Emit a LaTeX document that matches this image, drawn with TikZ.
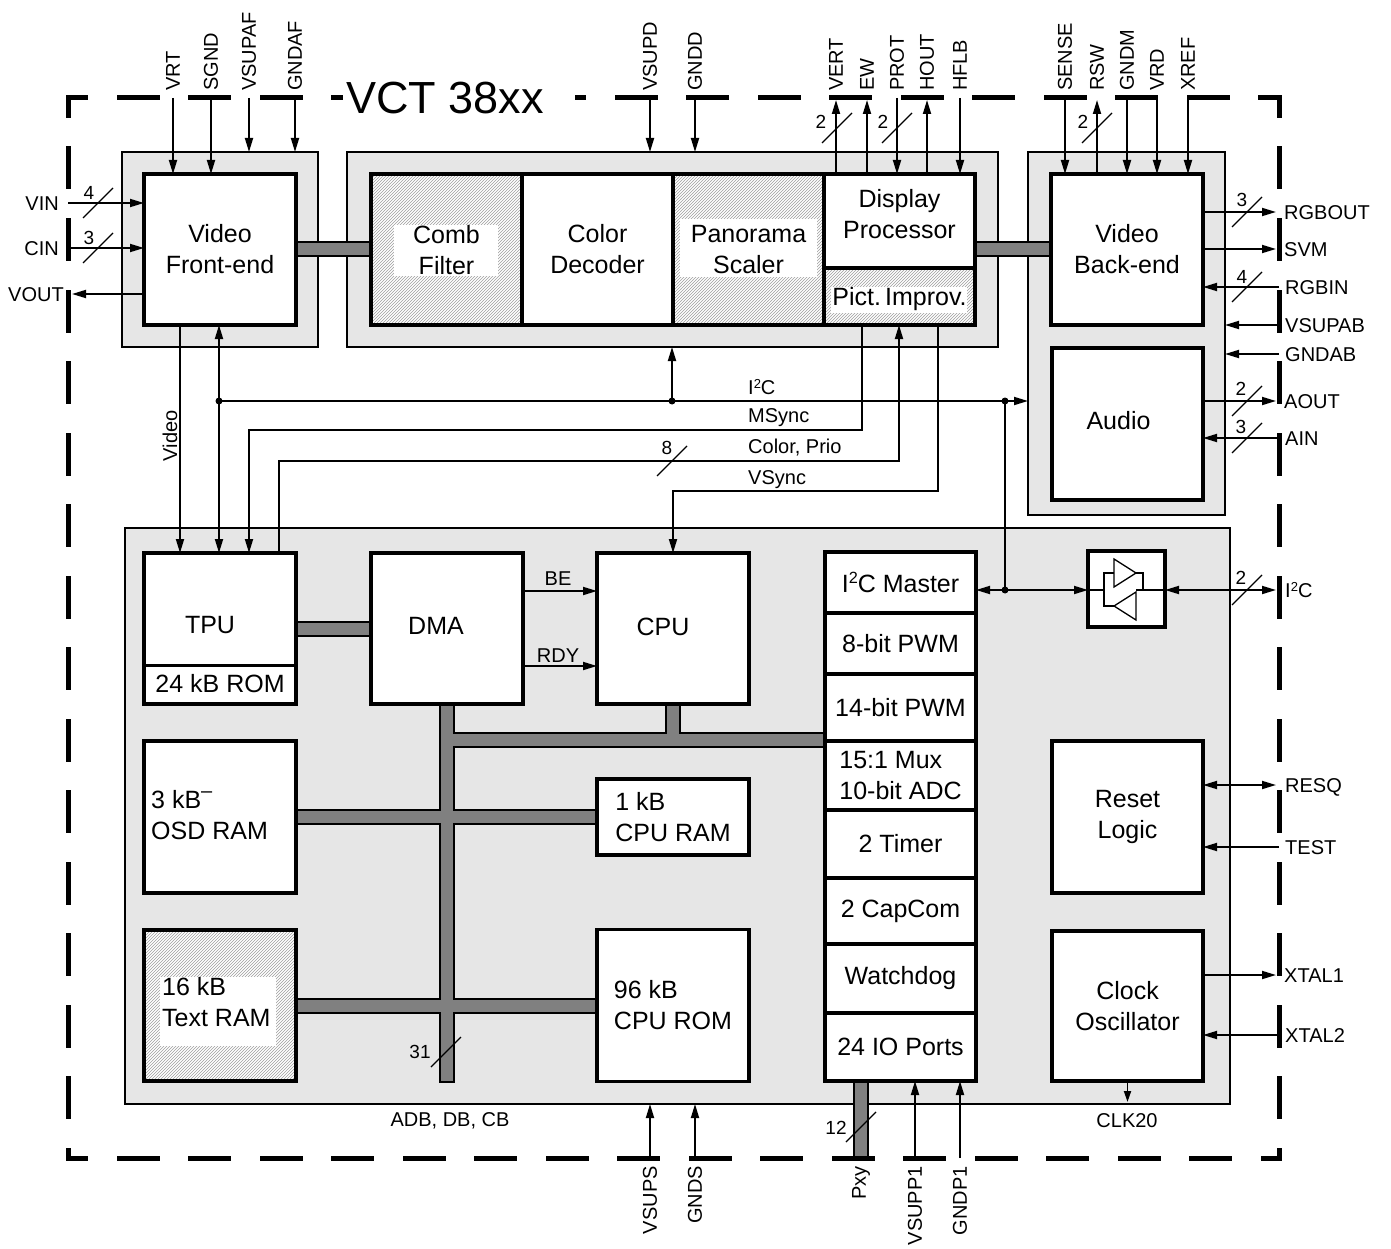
\documentclass[tikz,border=0pt]{standalone}
\usepackage{fontspec}
\setmainfont{Liberation Sans}
\usetikzlibrary{arrows.meta,patterns,calc}
\pgfdeclarelayer{bg}
\pgfdeclarelayer{bus}
\pgfsetlayers{bg,bus,main}
\definecolor{boxgray}{RGB}{230,230,230}
\definecolor{busgray}{RGB}{128,128,128}
\newcommand\fBlk{\fontsize{25}{31}\selectfont}
\newcommand\fPin{\fontsize{20}{23}\selectfont}
\newcommand\fNum{\fontsize{19}{22}\selectfont}
\newcommand\fTtl{\fontsize{45}{50}\selectfont}
\newcommand\supII{\raisebox{0.33em}{\scalebox{0.65}{2}}}
\newcommand\supbar{\raisebox{0.45em}{\scalebox{0.8}{–}}}
\newcommand\bslash[1]{\draw[slashln] ($(#1)+(-15,15)$) -- ($(#1)+(15,-15)$);}
\tikzset{
  blk/.style={draw, line width=3.5pt, fill=white, inner sep=0pt, outer sep=0pt, align=center, font=\fBlk},
  hblk/.style={blk, preaction={fill=white}, pattern=north east lines, pattern color=black!38},
  gbox/.style={draw, line width=2pt, fill=boxgray, inner sep=0pt, outer sep=0pt},
  conn/.style={line width=1.8pt},
  arr/.style={conn, -{Triangle[length=14pt,width=8pt]}},
  darr/.style={conn, {Triangle[length=14pt,width=8pt]}-{Triangle[length=14pt,width=8pt]}},
  slashln/.style={line width=1.2pt},
  busout/.style={line width=16pt, draw=black},
  busin/.style={line width=12pt, draw=busgray},
  bord/.style={line width=5pt, line cap=rect, dash pattern=on 38pt off 33.5pt, dash phase=20.5pt},
  lbl/.style={font=\fPin, inner sep=0pt},
  txt/.style={font=\fBlk, inner sep=0pt, align=center},
  num/.style={font=\fNum, inner sep=0pt},
  dot/.style={circle, fill=black, inner sep=0pt, minimum size=7pt},
}
\begin{document}
\begin{tikzpicture}[x=1pt,y=-1pt]
\useasboundingbox (0,0) rectangle (1391,1249);
\begin{pgfonlayer}{bg}
\fill[white] (0,0) rectangle (1391,1249);
\node[gbox, minimum width=196pt, minimum height=195pt] (gTL) at (220,249.5) {};
\node[gbox, minimum width=651pt, minimum height=195pt] (gTM) at (672.5,249.5) {};
\node[gbox, minimum width=197pt, minimum height=363pt] (gTR) at (1126.5,333.5) {};
\node[gbox, minimum width=1105pt, minimum height=576pt] (gB) at (677.5,816) {};
\end{pgfonlayer}

% ---------- top blocks
\node[blk, minimum width=152pt, minimum height=151pt] (vfe) at (220,249.5) {Video\\Front-end};
\node[hblk, minimum width=151pt, minimum height=151pt] (comb) at (446.5,249.5) {};
\node[blk, minimum width=151pt, minimum height=151pt] (cdec) at (597.5,249.5) {Color\\Decoder};
\node[hblk, minimum width=151pt, minimum height=151pt] (pano) at (748.5,249.5) {};
\node[blk, minimum width=151pt, minimum height=94pt] (dp) at (899.5,221) {};
\node[hblk, minimum width=151pt, minimum height=57pt] (pi) at (899.5,296.5) {};
\node[blk, minimum width=152pt, minimum height=151pt] (vbe) at (1127,249.5) {Video\\Back-end};
\node[blk, minimum width=151pt, minimum height=152pt] (audio) at (1127.5,424) {};
\fill[white] (394,225) rectangle (498,276);
\node[txt] (tComb) at (446.5,250) {Comb\\Filter};
\fill[white] (680,219) rectangle (817,277);
\node[txt] (tPano) at (748.5,250) {Panorama\\Scaler};
\node[txt] (tDP) at (899.5,214) {Display\\Processor};
\fill[white] (831,287) rectangle (967,313);
\node[txt] (tPI) at (899.5,299) {Pict.\,Improv.};
\node[txt] (tAud) at (1118.5,421) {Audio};

% ---------- bottom blocks
\node[blk, minimum width=152pt, minimum height=151pt] (tpu) at (220,628.5) {};
\coordinate (tpudiv) at (220,665);
\draw[line width=3pt] (tpu.west |- tpudiv) -- (tpu.east |- tpudiv);
\node[txt] (tTPU) at (210,625) {TPU};
\node[txt] (tROM) at (220,684) {24 kB ROM};
\node[blk, minimum width=152pt, minimum height=151pt] (dma) at (447,628.5) {};
\node[txt] (tDMA) at (436,626) {DMA};
\node[blk, minimum width=152pt, minimum height=151pt] (cpu) at (673,628.5) {};
\node[txt] (tCPU) at (663,627) {CPU};
\node[blk, minimum width=152pt, minimum height=152pt] (osd) at (220,817) {};
\node[txt, align=left, anchor=west] (tOSD) at (151,815) {3 kB\supbar\\OSD RAM};
\node[hblk, minimum width=152pt, minimum height=151pt] (tram) at (220,1005.5) {};
\fill[white] (160,977) rectangle (276,1046);
\node[txt, align=left, anchor=west] (tTR) at (162,1002) {16 kB\\Text RAM};
\node[blk, minimum width=152pt, minimum height=76pt, align=left] (ram1) at (673,817) {1 kB\\CPU RAM};
\node[blk, minimum width=152pt, minimum height=152pt, align=left] (rom96) at (673,1005.5) {96 kB\\CPU ROM};

\node[blk, minimum width=151pt, minimum height=61pt] (i2cm) at (900.5,582.5) {I\supII C Master};
\node[blk, minimum width=151pt, minimum height=61pt] (pwm8) at (900.5,643.5) {8-bit PWM};
\node[blk, minimum width=151pt, minimum height=67pt] (pwm14) at (900.5,707.5) {14-bit PWM};
\node[blk, minimum width=151pt, minimum height=69pt, align=left] (adc) at (900.5,775.5) {15:1 Mux\\10-bit ADC};
\node[blk, minimum width=151pt, minimum height=68pt] (tmr) at (900.5,844) {2 Timer};
\node[blk, minimum width=151pt, minimum height=66pt] (capc) at (900.5,911) {2 CapCom};
\node[blk, minimum width=151pt, minimum height=69pt] (wdog) at (900.5,978.5) {Watchdog};
\node[blk, minimum width=151pt, minimum height=68pt] (iop) at (900.5,1047) {24 IO Ports};

\node[blk, minimum width=77pt, minimum height=76pt] (buf) at (1126.5,589) {};
\node[blk, minimum width=151pt, minimum height=152pt] (reset) at (1127.5,817) {Reset\\Logic};
\node[blk, minimum width=151pt, minimum height=150pt] (clk) at (1127.5,1006) {Clock\\Oscillator};

% buffer symbol
\coordinate (bufsig) at (1126.5,590);
\draw[conn] (buf.west |- bufsig) -- (1104,590) -- (1104,573) -- (1114,573);
\draw[conn] (1104,590) -- (1104,606) -- (1114,606);
\draw[conn] (1136,573) -- (1143,573) -- (1143,590) -- (buf.east |- bufsig);
\draw[conn] (1143,590) -- (1136,590);
\draw[line width=1.3pt, fill=white] (1114,559) -- (1114,587) -- (1136,573) -- cycle;
\draw[line width=1.3pt, fill=white] (1136,592) -- (1136,620) -- (1114,606) -- cycle;

% ---------- buses
\coordinate (hb) at (447,740);
\coordinate (dmabo) at (447,1082.5);
\coordinate (dmabi) at (447,1080.5);
\coordinate (pPxy) at (861,1158);
\begin{pgfonlayer}{bus}
\foreach \st in {busout,busin}{
  \draw[\st] (vfe.east) -- (comb.west);
  \draw[\st] (dp.east |- vbe.west) -- (vbe.west);
  \draw[\st] (tpu.east) -- (dma.west);
  \draw[\st] (hb) -- (hb -| adc.west);
  \draw[\st] (cpu.south) -- (cpu.south |- hb);
  \draw[\st] (osd.east) -- (ram1.west);
  \draw[\st] (tram.east) -- (rom96.west);
  \draw[\st] (iop.south -| pPxy) -- (pPxy);
}
\draw[busout] (dma.south) -- (dmabo);
\draw[busin] (dma.south) -- (dmabi);
\draw[busin] (hb) -- (hb -| adc.west);
\draw[busin] (osd.east) -- (ram1.west);
\draw[busin] (tram.east) -- (rom96.west);
\end{pgfonlayer}
\coordinate (s31) at (446,1052);
\bslash{s31}
\node[num] (n31) at (420,1052) {31};
\coordinate (s12) at (861,1127);
\bslash{s12}
\node[num] (n12) at (836,1128) {12};
\node[lbl] (lADB) at (450,1121) {ADB, DB, CB};

% ---------- top pins
\foreach \nm/\x in {VRT/173,SGND/211}{
  \coordinate (p\nm) at (\x,98);
  \draw[arr] (p\nm) -- (p\nm |- vfe.north);
  \node[lbl, rotate=90, anchor=west] (l\nm) at ($(p\nm)+(0,-7)$) {\nm};
}
\foreach \nm/\x in {VSUPAF/249,GNDAF/295}{
  \coordinate (p\nm) at (\x,98);
  \draw[arr] (p\nm) -- (p\nm |- gTL.north);
  \node[lbl, rotate=90, anchor=west] (l\nm) at ($(p\nm)+(0,-7)$) {\nm};
}
\foreach \nm/\x in {VSUPD/650,GNDD/695}{
  \coordinate (p\nm) at (\x,98);
  \draw[arr] (p\nm) -- (p\nm |- gTM.north);
  \node[lbl, rotate=90, anchor=west] (l\nm) at ($(p\nm)+(0,-7)$) {\nm};
}
\foreach \nm/\x in {VERT/836,EW/867,HOUT/927}{
  \coordinate (p\nm) at (\x,98);
  \draw[arr, shorten >=2pt] (p\nm |- dp.north) -- (p\nm);
  \node[lbl, rotate=90, anchor=west] (l\nm) at ($(p\nm)+(0,-7)$) {\nm};
}
\foreach \nm/\x in {PROT/897,HFLB/960}{
  \coordinate (p\nm) at (\x,98);
  \draw[arr] (p\nm) -- (p\nm |- dp.north);
  \node[lbl, rotate=90, anchor=west] (l\nm) at ($(p\nm)+(0,-7)$) {\nm};
}
\foreach \nm/\x in {SENSE/1065,GNDM/1127,VRD/1157,XREF/1188}{
  \coordinate (p\nm) at (\x,98);
  \draw[arr] (p\nm) -- (p\nm |- vbe.north);
  \node[lbl, rotate=90, anchor=west] (l\nm) at ($(p\nm)+(0,-7)$) {\nm};
}
\coordinate (pRSW) at (1097,98);
\draw[arr, shorten >=2pt] (pRSW |- vbe.north) -- (pRSW);
\node[lbl, rotate=90, anchor=west] (lRSW) at ($(pRSW)+(0,-7)$) {RSW};

\coordinate (sVERT) at (837,128); \bslash{sVERT} \node[num] (nVERT) at (821,122) {2};
\coordinate (sPROT) at (897,128); \bslash{sPROT} \node[num] (nPROT) at (883,122) {2};
\coordinate (sRSW) at (1097,128); \bslash{sRSW} \node[num] (nRSW) at (1083,122) {2};

% ---------- bottom pins
\foreach \nm/\x in {VSUPS/650,GNDS/695}{
  \coordinate (p\nm) at (\x,1158);
  \draw[arr] (p\nm) -- (p\nm |- gB.south);
  \node[lbl, rotate=90, anchor=east] (l\nm) at ($(p\nm)+(0,8)$) {\nm};
}
\foreach \nm/\x in {VSUPP1/915,GNDP1/960}{
  \coordinate (p\nm) at (\x,1158);
  \draw[arr] (p\nm) -- (p\nm |- iop.south);
  \node[lbl, rotate=90, anchor=east] (l\nm) at ($(p\nm)+(0,8)$) {\nm};
}
\node[lbl, rotate=90, anchor=east] (lPxy) at ($(pPxy)+(0,8)$) {Pxy};

% ---------- left pins
\coordinate (pVIN) at (68,203);
\coordinate (pCIN) at (68,248);
\coordinate (pVOUT) at (68,294);
\draw[arr] (pVIN) -- (vfe.west |- pVIN);
\draw[arr] (pCIN) -- (vfe.west |- pCIN);
\draw[arr, shorten >=4pt] (vfe.west |- pVOUT) -- (pVOUT);
\node[lbl, anchor=east] (lVIN) at (59,204) {VIN};
\node[lbl, anchor=east] (lCIN) at (59,249) {CIN};
\node[lbl, anchor=east] (lVOUT) at (64,295) {VOUT};
\coordinate (sVIN) at (98,203); \bslash{sVIN} \node[num] (nVIN) at (89,193) {4};
\coordinate (sCIN) at (98,248); \bslash{sCIN} \node[num] (nCIN) at (89,238) {3};

% ---------- right pins
\foreach \nm/\y/\src in {RGBOUT/212/vbe,SVM/249/vbe,AOUT/401/audio,XTAL1/975/clk}{
  \coordinate (q\nm) at (1279,\y);
  \draw[arr, shorten >=3pt] (\src.east |- q\nm) -- (q\nm);
  \node[lbl, anchor=west] (l\nm) at ($(q\nm)+(5,1)$) {\nm};
}
\foreach \nm/\y/\dst in {RGBIN/287/vbe,VSUPAB/325/gTR,GNDAB/354/gTR,AIN/438/audio,TEST/847/reset,XTAL2/1035/clk}{
  \coordinate (q\nm) at (1279,\y);
  \draw[arr] (q\nm) -- (\dst.east |- q\nm);
  \node[lbl, anchor=west] (l\nm) at ($(q\nm)+(6,1)$) {\nm};
}
\coordinate (qRESQ) at (1279,785);
\draw[darr, shorten >=3pt] (reset.east |- qRESQ) -- (qRESQ);
\node[lbl, anchor=west] (lRESQ) at ($(qRESQ)+(6,2)$) {RESQ};
\coordinate (qI2C) at (1279,590);
\draw[darr, shorten >=3pt] (buf.east |- qI2C) -- (qI2C);
\node[lbl, anchor=west] (lI2C) at ($(qI2C)+(6,0)$) {I\supII C};

\coordinate (sRGBOUT) at (1247,212); \bslash{sRGBOUT} \node[num] (nRGBOUT) at (1242,200) {3};
\coordinate (sRGBIN) at (1247,287); \bslash{sRGBIN} \node[num] (nRGBIN) at (1242,277) {4};
\coordinate (sAOUT) at (1247,401); \bslash{sAOUT} \node[num] (nAOUT) at (1241,389) {2};
\coordinate (sAIN) at (1247,438); \bslash{sAIN} \node[num] (nAIN) at (1241,427) {3};
\coordinate (sI2C) at (1247,590); \bslash{sI2C} \node[num] (nI2C) at (1241,578) {2};

% ---------- internal connectors
\coordinate (vidx) at (180,400);
\draw[arr] (vfe.south -| vidx) -- (tpu.north -| vidx);
\node[lbl, rotate=90] (lVideo) at (170,436) {Video};

\coordinate (i2cL) at (219,401);
\coordinate (i2cM) at (672,401);
\coordinate (i2cR) at (1005,401);
\coordinate (i2cD) at (1005,590);
\draw[darr] (vfe.south -| i2cL) -- (tpu.north -| i2cL);
\draw[arr] (i2cL) -- (gTR.west |- i2cL);
\draw[arr] (i2cM) -- (gTM.south -| i2cM);
\draw[conn] (i2cR) -- (i2cD);
\draw[arr] (i2cD) -- (i2cm.east |- i2cD);
\draw[arr] (i2cD) -- (buf.west |- i2cD);
\foreach \c in {i2cL,i2cM,i2cR,i2cD}{ \node[dot] (d\c) at (\c) {}; }
\node[lbl, anchor=west] (lI2Cm) at (748,387) {I\supII C};

\coordinate (ms1) at (862,430);
\coordinate (ms2) at (249,430);
\draw[arr] (pi.south -| ms1) -- (ms1) -- (ms2) -- (tpu.north -| ms2);
\node[lbl, anchor=west] (lMS) at (748,418) {MSync};

\coordinate (cp1) at (899,461);
\coordinate (cp2) at (279,461);
\draw[arr] (tpu.north -| cp2) -- (cp2) -- (cp1) -- (pi.south -| cp1);
\node[lbl, anchor=west] (lCP) at (748,448) {Color, Prio};
\coordinate (sCP) at (672,461); \bslash{sCP} \node[num] (nCP) at (667,448) {8};

\coordinate (vs1) at (938,491);
\coordinate (vs2) at (673,491);
\draw[arr] (pi.south -| vs1) -- (vs1) -- (vs2) -- (cpu.north -| vs2);
\node[lbl, anchor=west] (lVS) at (748,480) {VSync};

\coordinate (be) at (560,591);
\coordinate (rdy) at (560,666);
\draw[arr] (dma.east |- be) -- (cpu.west |- be);
\draw[arr] (dma.east |- rdy) -- (cpu.west |- rdy);
\node[lbl] (lBE) at (558,579) {BE};
\node[lbl] (lRDY) at (558,656) {RDY};

\coordinate (clkend) at (1127.5,1102);
\draw[conn, -{Triangle[length=11pt,width=7pt]}] (clk.south) -- (clkend);
\node[lbl] (lCLK) at (1127,1121) {CLK20};

% ---------- chip border and title
\draw[bord] (68,98) -- (340,98);
\draw[bord, dash phase=19.5pt] (1279,98) -- (577,98);
\draw[bord] (68,98) -- (68,1158);
\draw[bord] (1279,98) -- (1279,1158);
\draw[bord] (68,1158) -- (1279,1158);
\node[font=\fTtl, anchor=west, inner sep=0pt] (title) at (346,98) {VCT 38xx};
\end{tikzpicture}
\end{document}
